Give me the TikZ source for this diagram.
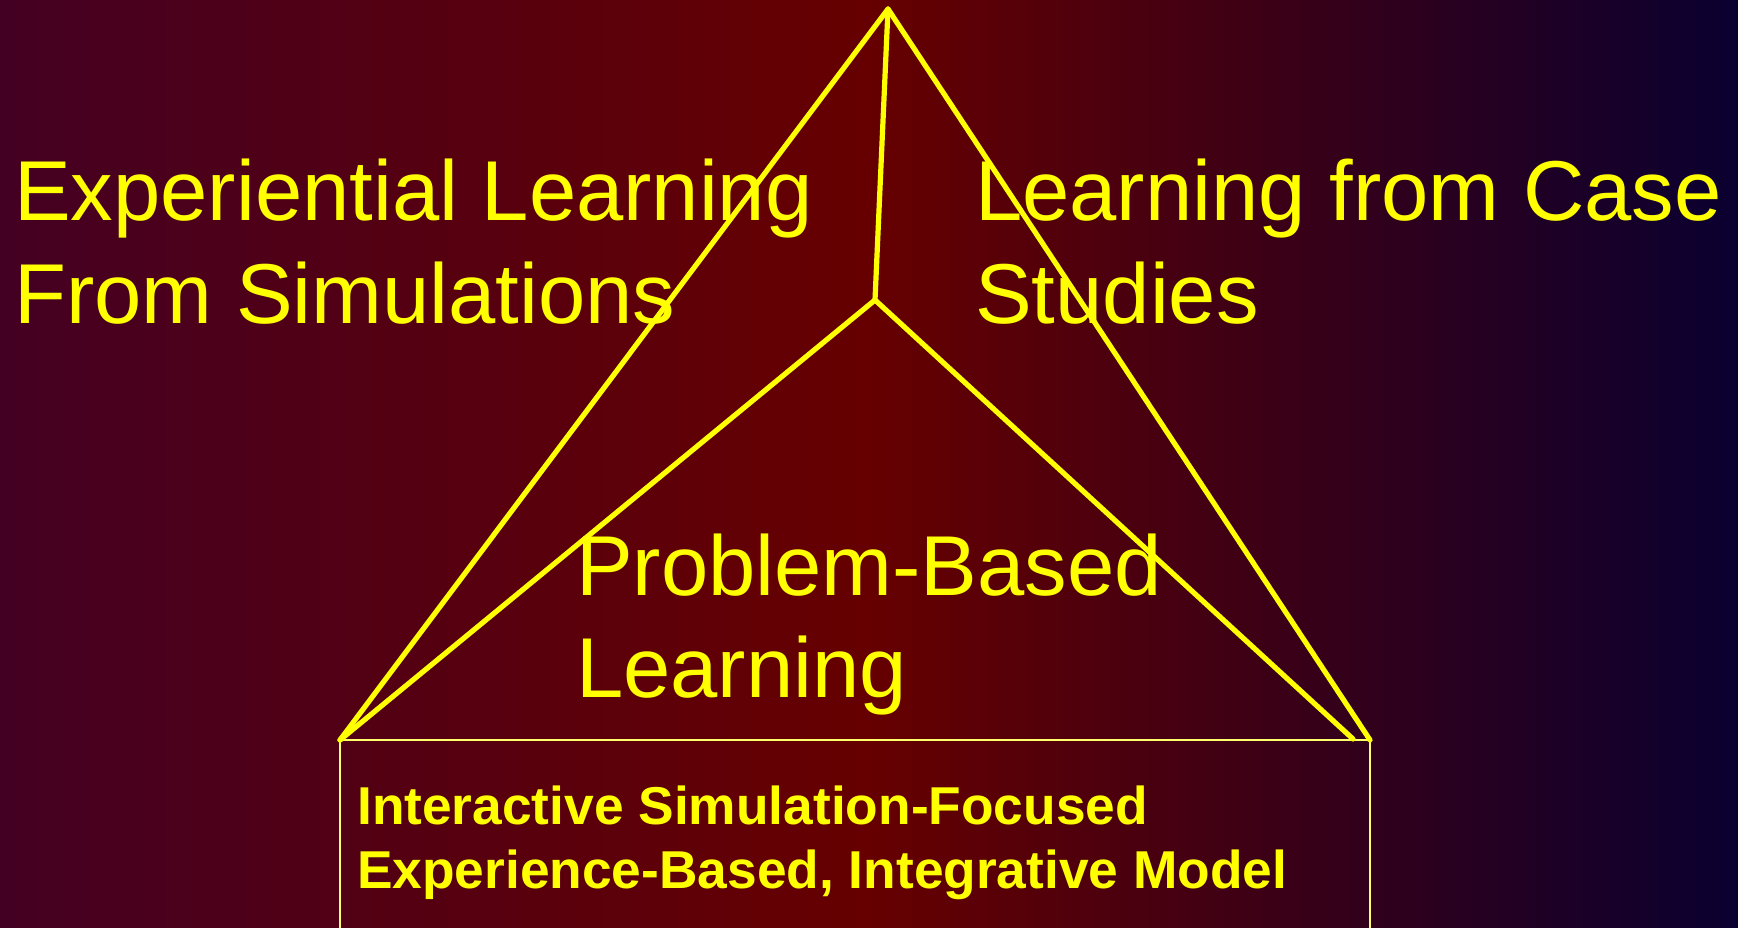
\documentclass[tikz,border=0pt]{standalone}
\usepackage{fontspec}
\setmainfont{Liberation Sans}
\definecolor{bgl}{RGB}{68,0,34}
\definecolor{bgm}{RGB}{102,0,0}
\definecolor{bgr}{RGB}{10,0,48}
\definecolor{yel}{RGB}{255,255,0}
\definecolor{boxyel}{RGB}{255,255,110}
\begin{document}
\begin{tikzpicture}[x=1pt,y=-1pt,
  triline/.style={draw=yel, line width=5.2pt, line cap=round, line join=round},
  boxline/.style={draw=boxyel, line width=2.8pt},
  bigtext/.style={text=yel, anchor=base west, inner sep=0pt, font=\fontsize{85}{102}\selectfont},
  boxtext/.style={text=yel, anchor=base west, inner sep=0pt, font=\bfseries\fontsize{53.3}{64}\selectfont}]
\shade[left color=bgl, right color=bgr, middle color=bgm] (0,0) rectangle (1738,928);
\useasboundingbox (0,0) rectangle (1738,928);
% vertices
\coordinate (apex) at (888,9);
\coordinate (inner) at (875,300);
\coordinate (bl) at (340,740);
\coordinate (br) at (1370,740);
\coordinate (bri) at (1353,739);
\coordinate (boxbl) at (340,940);
\coordinate (boxbr) at (1370,940);
% box
\draw[boxline] (boxbl) -- (bl) -- (br) -- (boxbr);
% triangle
\draw[triline] (bl) -- (apex) -- (br);
\draw[triline] (apex) -- (inner);
\draw[triline] (bl) -- (inner) -- (bri);
% texts
\node[bigtext] (exp1) at (14,221) {Experiential Learning};
\node[bigtext] (exp2) at (14,323) {From Simulations};
\node[bigtext] (case1) at (975,221) {Learning from Case};
\node[bigtext] (case2) at (975,323) {Studies};
\node[bigtext] (pbl1) at (576,595) {Problem-Based};
\node[bigtext] (pbl2) at (576,697) {Learning};
\node[boxtext] (box1) at (357,824) {Interactive Simulation-Focused};
\node[boxtext] (box2) at (357,888) {Experience-Based, Integrative Model};
\end{tikzpicture}
\end{document}
